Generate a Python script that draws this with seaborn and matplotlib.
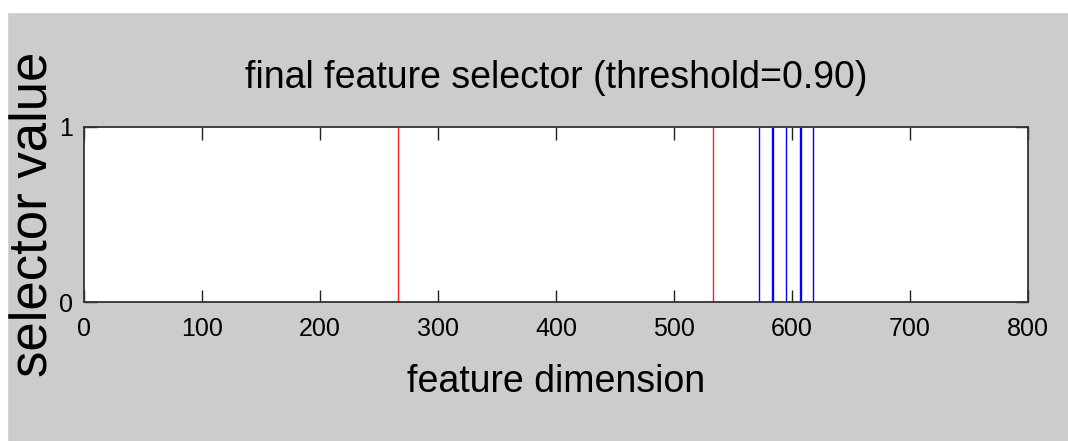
import matplotlib
matplotlib.use("Agg")
import matplotlib.pyplot as plt
import seaborn as sns
from matplotlib.patches import Rectangle

# selected feature indices (value 1)
group_marks = [266, 533]
selected = [572, 583, 584, 595, 607, 608, 618]
xticks = [0, 100, 200, 300, 400, 500, 600, 700, 800]
yticks = [0, 1]

title = "final feature selector (threshold=0.90)"
xlabel = "feature dimension"
ylabel = "selector value"

sns.set_theme(style="ticks", rc={
    "figure.facecolor": "#cccccc",
    "axes.facecolor": "white",
    "axes.edgecolor": "#333333",
    "axes.linewidth": 1.3,
    "text.color": "black",
    "axes.labelcolor": "black",
    "xtick.color": "#222222",
    "ytick.color": "#222222",
    "xtick.labelcolor": "black",
    "ytick.labelcolor": "black",
})
plt.rcParams["font.family"] = ["Liberation Sans", "DejaVu Sans"]

fig = plt.figure(figsize=(10.68, 4.41), dpi=100)
# white strips at top and left edge
fig.patches.append(Rectangle((0, 1 - 12 / 441), 1, 12 / 441,
                             transform=fig.transFigure, color="white", zorder=0))
fig.patches.append(Rectangle((0, 0), 7 / 1068, 1,
                             transform=fig.transFigure, color="white", zorder=0))

ax = fig.add_axes([84 / 1068, 139 / 441, 944 / 1068, 175 / 441])

sns.rugplot(x=group_marks, height=1, color="#ff2020", lw=1.2,
            expand_margins=False, ax=ax)
sns.rugplot(x=selected, height=1, color="blue", lw=1.1,
            expand_margins=False, ax=ax)

ax.set_xlim(0, 800)
ax.set_ylim(0, 1)
ax.set_xticks(xticks)
ax.set_yticks(yticks)
ax.tick_params(direction="in", length=9, width=1,
               top=True, right=True, labelsize=18, pad=8)
ax.tick_params(axis="x", pad=11)
for s in ax.spines.values():
    s.set_visible(True)

ax.set_title(title, fontsize=27, pad=28)
ax.set_xlabel(xlabel, fontsize=27, labelpad=16)
ax.set_ylabel(ylabel, fontsize=38)
ax.yaxis.set_label_coords(-26 / 944, 0.5)

fig.savefig("out.png", dpi=100, facecolor=fig.get_facecolor())
